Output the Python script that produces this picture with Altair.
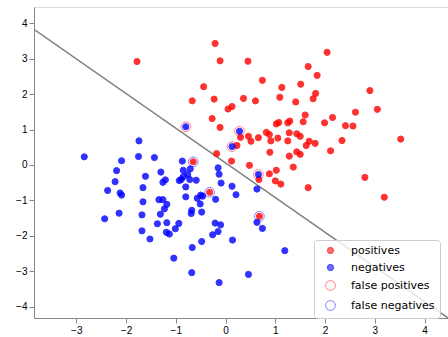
import altair as alt
import pandas as pd

# positives (red points), including the false negatives
pos_x = [-0.21, -1.78, -0.11, -0.44, -0.67, -0.23, 0.13, 0.05, -0.27, -0.11, -0.18, 0.12, 0.23,
         0.45, 2.04, 1.66, 1.84, 0.74, 1.13, 1.51, 0.36, 0.60, 1.09, 1.41, 1.81, 1.76, 2.90, 3.05,
         2.61, 1.60, 2.15, 1.56, 1.99, 1.07, 1.02, 1.25, 1.29, 2.41, 2.56, 0.82, 0.88, 1.28, 1.43,
         1.50, 0.46, 0.51, 0.66, 0.30, 0.91, 1.05, 1.25, 1.68, 1.62, 1.80, 2.34, 3.52, 0.89, 1.43,
         1.50, 1.28, 2.11, 0.48, 1.36, 1.02, 0.88, 2.80, 0.67, 1.00, 1.11, 1.66, 3.19,
         -0.65, -0.32, 0.68]
pos_y = [3.43, 2.92, 2.94, 2.21, 1.81, 1.86, 1.65, 1.58, 1.31, 1.06, 0.32, 0.11, 0.55,
         2.93, 3.18, 2.78, 2.53, 2.39, 2.19, 2.28, 1.88, 1.81, 1.91, 1.78, 2.02, 1.87, 2.10, 1.57,
         1.49, 1.41, 1.34, 1.22, 1.19, 1.20, 1.16, 1.19, 1.24, 1.11, 1.10, 0.92, 0.86, 0.91, 0.88,
         0.81, 0.81, 0.67, 0.77, 0.78, 0.68, 0.76, 0.68, 0.67, 0.55, 0.61, 0.69, 0.73, 0.36, 0.37,
         0.30, 0.25, 0.40, -0.01, -0.06, -0.15, -0.25, -0.35, -0.41, -0.45, -0.54, -0.64, -0.91,
         0.09, -0.77, -1.45]

# negatives (blue points), including the false positives
neg_x = [-1.74, -2.84, -1.75, -1.43, -2.09, -0.87, -2.19, -1.61, -1.30, -0.85, -0.71, -0.76,
         -0.15, -0.13, -2.22, -1.21, -1.26, -0.93, -0.89, -0.59, -0.09, 0.13, -0.85, -0.72, -0.80,
         -2.37, -2.12, -2.09, -1.66, 0.21, -1.66, -1.34, -1.26, -1.18, -1.23, -0.80, -0.57, -0.50,
         -0.46, -0.51, -0.20, -2.14, -2.43, -1.68, -1.31, -0.68, -0.69, -0.48, -1.37, -1.18, -0.94,
         -1.68, -1.52, -1.19, -1.13, -1.01, -0.21, -0.10, -0.26, -0.15, 0.14, -0.48, -0.67, -1.04,
         -0.68, -0.13, 0.63, 0.63, 0.74, 1.19, 0.46,
         -0.80, 0.13, 0.28, 0.66]
neg_y = [0.68, 0.23, 0.24, 0.21, 0.12, 0.11, -0.16, -0.32, -0.20, -0.15, -0.11, -0.27,
         -0.08, -0.26, -0.47, -0.42, -0.49, -0.44, -0.41, -0.43, -0.51, -0.60, -0.33, -0.41, -0.62,
         -0.72, -0.79, -0.85, -0.64, -0.84, -1.04, -0.98, -0.98, -1.11, -1.24, -0.90, -0.94, -0.85,
         -0.88, -1.10, -0.97, -1.36, -1.52, -1.41, -1.39, -1.28, -1.37, -1.33, -1.66, -1.63, -1.65,
         -1.86, -2.09, -1.90, -1.95, -1.80, -1.64, -1.69, -1.97, -1.88, -2.12, -2.16, -2.33, -2.63,
         -3.04, -3.32, -0.68, -1.62, -1.79, -2.42, -3.09,
         1.08, 0.52, 0.95, -0.27]

# false positives (blue points ringed in red) and false negatives (red points ringed in blue)
fp_x = [-0.80, 0.13, 0.28, 0.66]
fp_y = [1.08, 0.52, 0.95, -0.27]
fn_x = [-0.65, -0.32, 0.68]
fn_y = [0.09, -0.77, -1.45]

# decision boundary endpoints
line_x = [-3.86, 4.47]
line_y = [3.84, -4.32]

series_names = ["positives", "negatives", "false positives", "false negatives"]

rows = []
for xs, ys, name in [(pos_x, pos_y, "positives"), (neg_x, neg_y, "negatives"),
                     (fp_x, fp_y, "false positives"), (fn_x, fn_y, "false negatives")]:
    for a, b in zip(xs, ys):
        rows.append({"x": a, "y": b, "series": name})
points = pd.DataFrame(rows)
line_df = pd.DataFrame({"x": line_x, "y": line_y})

FONT = "DejaVu Sans"
xscale = alt.Scale(domain=[-3.85, 4.47], nice=False, zero=False)
yscale = alt.Scale(domain=[-4.32, 4.46], nice=False, zero=False)
xaxis = alt.Axis(values=[-3, -2, -1, 0, 1, 2, 3, 4], title=None, grid=False)
yaxis = alt.Axis(values=[-4, -3, -2, -1, 0, 1, 2, 3, 4], title=None, grid=False)

leg = alt.Legend(orient="none", legendX=280, legendY=233, padding=5, symbolOffset=6,
                 labelOffset=15, rowPadding=5, strokeColor="#cccccc",
                 fillColor="rgba(255,255,255,0.8)", cornerRadius=3,
                 labelFont=FONT, labelFontSize=11, labelColor="black",
                 symbolStrokeWidth=1)

line = alt.Chart(line_df).mark_line(color="#808080", strokeWidth=1.5, clip=True).encode(
    x=alt.X("x:Q", scale=xscale, axis=xaxis),
    y=alt.Y("y:Q", scale=yscale, axis=yaxis),
)

pts = alt.Chart(points).mark_point(shape="circle", strokeWidth=1, clip=True).encode(
    x=alt.X("x:Q", scale=xscale, axis=xaxis),
    y=alt.Y("y:Q", scale=yscale, axis=yaxis),
    fill=alt.Fill("series:O", title=None, legend=leg, sort=series_names,
                  scale=alt.Scale(type="ordinal", domain=series_names,
                                  range=["#ff0000", "#0000ff", "transparent", "transparent"])),
    stroke=alt.Stroke("series:O", title=None, legend=leg, sort=series_names,
                      scale=alt.Scale(type="ordinal", domain=series_names,
                                      range=["#ff0000", "#0000ff", "#ff0000", "#0000ff"])),
    opacity=alt.Opacity("series:O", title=None, legend=leg, sort=series_names,
                        scale=alt.Scale(type="ordinal", domain=series_names,
                                        range=[0.8, 0.8, 0.5, 0.5])),
    size=alt.Size("series:O", title=None, legend=leg, sort=series_names,
                  scale=alt.Scale(type="ordinal", domain=series_names,
                                  range=[38, 38, 95, 95])),
)

chart = alt.layer(line, pts).properties(
    width=414, height=311,
    autosize=alt.AutoSizeParams(type="none"),
    padding={"left": 34, "top": 7, "right": 0, "bottom": 19},
).configure_view(
    stroke="#888888", strokeWidth=1
).configure_axis(
    labelFont=FONT, labelFontSize=11, labelColor="black",
    tickColor="black", tickSize=3.5, tickWidth=1,
    domainColor="black", domainWidth=1, labelPadding=2,
).configure(background="white")

chart.save("out.html", embed_options={"renderer": "svg", "actions": False})
